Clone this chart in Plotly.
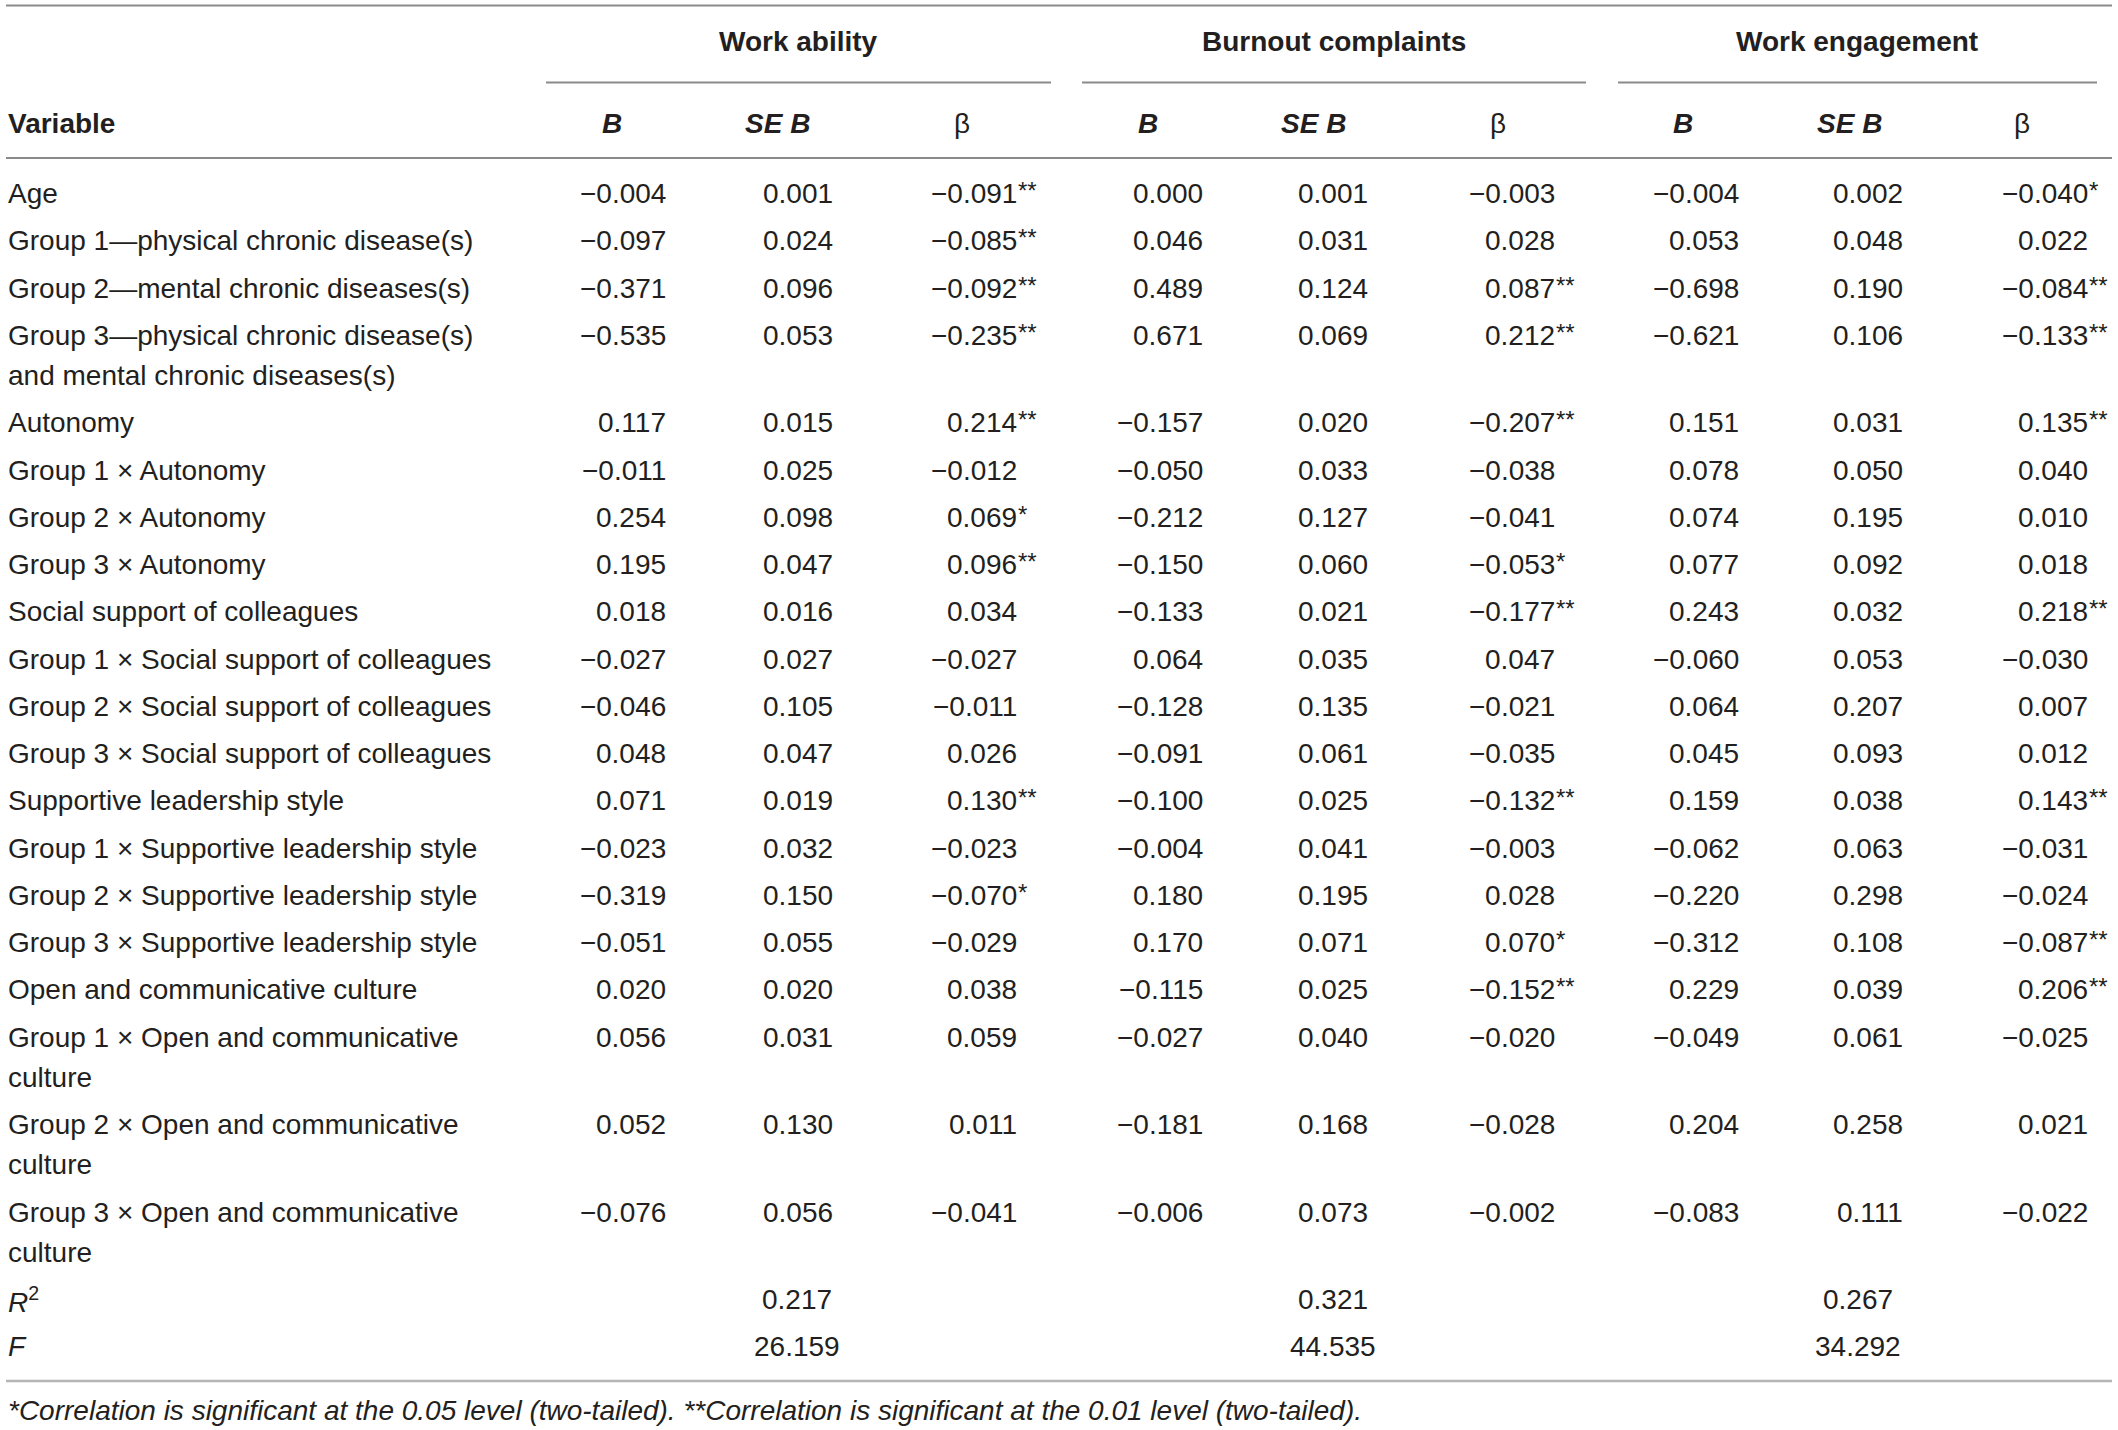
import plotly.graph_objects as go

# ---------------- data ----------------
variables = [
    "Age",
    "Group 1\u2014physical chronic disease(s)",
    "Group 2\u2014mental chronic diseases(s)",
    "Group 3\u2014physical chronic disease(s)<br>and mental chronic diseases(s)",
    "Autonomy",
    "Group 1 \u00d7 Autonomy",
    "Group 2 \u00d7 Autonomy",
    "Group 3 \u00d7 Autonomy",
    "Social support of colleagues",
    "Group 1 \u00d7 Social support of colleagues",
    "Group 2 \u00d7 Social support of colleagues",
    "Group 3 \u00d7 Social support of colleagues",
    "Supportive leadership style",
    "Group 1 \u00d7 Supportive leadership style",
    "Group 2 \u00d7 Supportive leadership style",
    "Group 3 \u00d7 Supportive leadership style",
    "Open and communicative culture",
    "Group 1 \u00d7 Open and communicative<br>culture",
    "Group 2 \u00d7 Open and communicative<br>culture",
    "Group 3 \u00d7 Open and communicative<br>culture",
]

outcomes = ["Work ability", "Burnout complaints", "Work engagement"]
sub_headers = ["<b><i>B</i></b>", "<b><i>SE B</i></b>", "\u03b2"]

wa_b = [-0.004, -0.097, -0.371, -0.535, 0.117, -0.011, 0.254, 0.195, 0.018, -0.027,
        -0.046, 0.048, 0.071, -0.023, -0.319, -0.051, 0.020, 0.056, 0.052, -0.076]
wa_se = [0.001, 0.024, 0.096, 0.053, 0.015, 0.025, 0.098, 0.047, 0.016, 0.027,
         0.105, 0.047, 0.019, 0.032, 0.150, 0.055, 0.020, 0.031, 0.130, 0.056]
wa_beta = [-0.091, -0.085, -0.092, -0.235, 0.214, -0.012, 0.069, 0.096, 0.034, -0.027,
           -0.011, 0.026, 0.130, -0.023, -0.070, -0.029, 0.038, 0.059, 0.011, -0.041]
wa_sig = ["**", "**", "**", "**", "**", "", "*", "**", "", "",
          "", "", "**", "", "*", "", "", "", "", ""]

bc_b = [0.000, 0.046, 0.489, 0.671, -0.157, -0.050, -0.212, -0.150, -0.133, 0.064,
        -0.128, -0.091, -0.100, -0.004, 0.180, 0.170, -0.115, -0.027, -0.181, -0.006]
bc_se = [0.001, 0.031, 0.124, 0.069, 0.020, 0.033, 0.127, 0.060, 0.021, 0.035,
         0.135, 0.061, 0.025, 0.041, 0.195, 0.071, 0.025, 0.040, 0.168, 0.073]
bc_beta = [-0.003, 0.028, 0.087, 0.212, -0.207, -0.038, -0.041, -0.053, -0.177, 0.047,
           -0.021, -0.035, -0.132, -0.003, 0.028, 0.070, -0.152, -0.020, -0.028, -0.002]
bc_sig = ["", "", "**", "**", "**", "", "", "*", "**", "",
          "", "", "**", "", "", "*", "**", "", "", ""]

we_b = [-0.004, 0.053, -0.698, -0.621, 0.151, 0.078, 0.074, 0.077, 0.243, -0.060,
        0.064, 0.045, 0.159, -0.062, -0.220, -0.312, 0.229, -0.049, 0.204, -0.083]
we_se = [0.002, 0.048, 0.190, 0.106, 0.031, 0.050, 0.195, 0.092, 0.032, 0.053,
         0.207, 0.093, 0.038, 0.063, 0.298, 0.108, 0.039, 0.061, 0.258, 0.111]
we_beta = [-0.040, 0.022, -0.084, -0.133, 0.135, 0.040, 0.010, 0.018, 0.218, -0.030,
           0.007, 0.012, 0.143, -0.031, -0.024, -0.087, 0.206, -0.025, 0.021, -0.022]
we_sig = ["*", "", "**", "**", "**", "", "", "", "**", "",
          "", "", "**", "", "", "**", "**", "", "", ""]

r_squared = [0.217, 0.321, 0.267]
f_values = [26.159, 44.535, 34.292]

footnote = ("<i>*Correlation is significant at the 0.05 level (two-tailed). "
            "**Correlation is significant at the 0.01 level (two-tailed).</i>")

# ---------------- layout constants ----------------
W, H = 2118, 1430
FONT = "Liberation Sans, Arial, Helvetica, sans-serif"
FS = 28
TXT = "#231f20"
RULE = "#8a8a8a"

label_x = 6
group_centers = [798, 1334, 1857]
group_spans = [(546, 1051), (1082, 1586), (1618, 2097)]
sub_centers = [[612, 777, 962], [1148, 1313, 1498], [1683, 1849, 2022]]
num_right = [[668, 835, 1019], [1205, 1370, 1557], [1741, 1905, 2090]]
stat_centers = [797, 1333, 1858]

y_group = 41
y_sub = 123
y_first = 193.5
row_step = 47.25
extra_line = 40.3

def fmt(v):
    s = f"{v:.3f}"
    return s.replace("-", "\u2212")

fig = go.Figure()
fig.add_trace(go.Scatter(x=[0, W], y=[0, H], mode="markers",
                         marker=dict(opacity=0), hoverinfo="skip", showlegend=False))

ann = []
def add(text, x, y, xanchor="left", size=FS, color=TXT, yshift=0):
    ann.append(dict(text=text, x=x, y=y, xref="x", yref="y", showarrow=False,
                    xanchor=xanchor, yanchor="middle", yshift=yshift,
                    font=dict(family=FONT, size=size, color=color)))

# headers
for g, name in enumerate(outcomes):
    add(f"<b>{name}</b>", group_centers[g], y_group, "center")
    for c, sh in enumerate(sub_headers):
        add(sh, sub_centers[g][c], y_sub, "center")
add("<b>Variable</b>", label_x, y_sub)

# body
cols = [(wa_b, wa_se, wa_beta, wa_sig), (bc_b, bc_se, bc_beta, bc_sig),
        (we_b, we_se, we_beta, we_sig)]
y = y_first
for i, var in enumerate(variables):
    lines = var.split("<br>")
    for k, ln in enumerate(lines):
        add(ln, label_x, y + k * extra_line)
    for g, (b, se, beta, sig) in enumerate(cols):
        add(fmt(b[i]), num_right[g][0], y, "right")
        add(fmt(se[i]), num_right[g][1], y, "right")
        add(fmt(beta[i]), num_right[g][2], y, "right")
        if sig[i]:
            add(sig[i], num_right[g][2] - 3, y, "left", size=24, yshift=3)
    y += row_step + extra_line * (len(lines) - 1)

y_r2 = y
y_f = y + row_step
add("<i>R</i><sup>2</sup>", label_x, y_r2)
add("<i>F</i>", label_x, y_f)
for g in range(3):
    add(f"{r_squared[g]:.3f}", stat_centers[g], y_r2, "center")
    add(f"{f_values[g]:.3f}", stat_centers[g], y_f, "center")

add(footnote, label_x, 1410)

shapes = []
def hline(x0, x1, yy, color=RULE, width=2):
    shapes.append(dict(type="line", xref="x", yref="y", x0=x0, x1=x1, y0=yy, y1=yy,
                       line=dict(color=color, width=width)))

hline(6, 2112, 5.5)
for x0, x1 in group_spans:
    hline(x0, x1, 82.5)
hline(6, 2112, 158)
hline(6, 2112, 1381, color="#b5b5b5", width=2.5)

fig.update_layout(
    width=W, height=H, margin=dict(l=0, r=0, t=0, b=0),
    paper_bgcolor="white", plot_bgcolor="white",
    xaxis=dict(range=[0, W], visible=False, fixedrange=True),
    yaxis=dict(range=[H, 0], visible=False, fixedrange=True),
    annotations=ann, shapes=shapes, showlegend=False,
)

fig.write_html("out.html", config={"displayModeBar": False},
               post_script="document.body.style.margin='0';document.body.style.overflow='hidden';")
